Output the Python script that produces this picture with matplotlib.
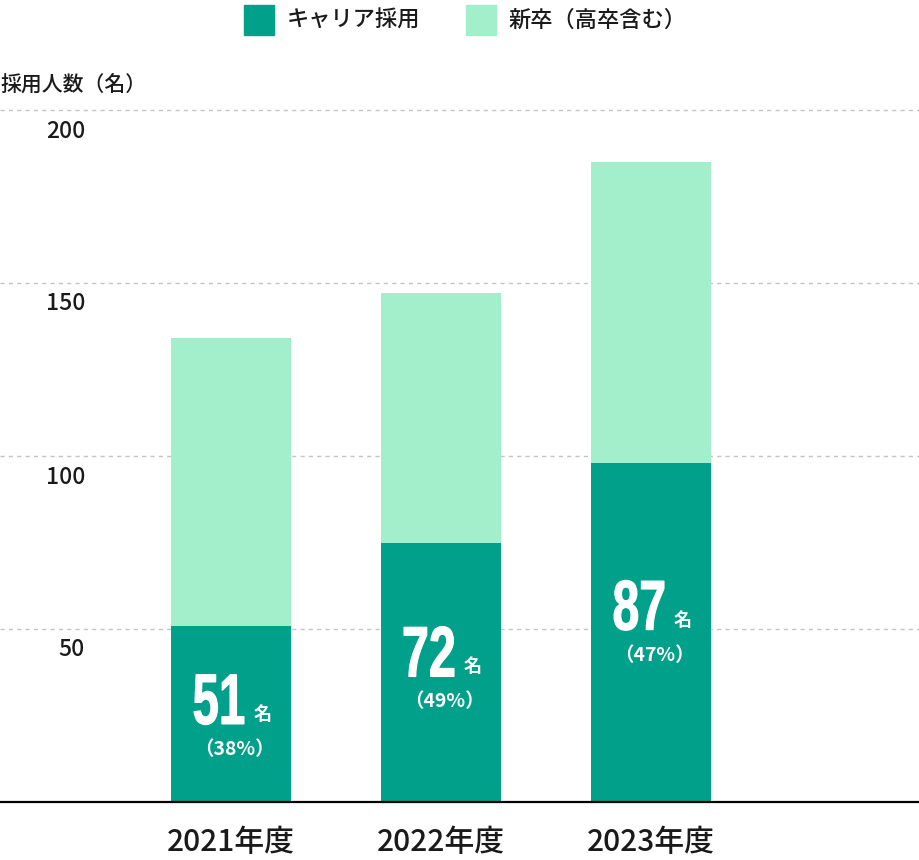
import matplotlib
matplotlib.use("Agg")
import matplotlib.pyplot as plt
from matplotlib.textpath import TextPath
from matplotlib.patches import PathPatch, Rectangle
from matplotlib.font_manager import FontProperties
from matplotlib.transforms import Affine2D, offset_copy
import numpy as np

plt.rcParams['font.family'] = ['Noto Sans CJK JP', 'DejaVu Sans']
plt.rcParams['font.weight'] = 'medium'

# data
years = ["2021年度", "2022年度", "2023年度"]
career_bar = [51, 75, 98]          # dark bar heights as drawn
total_bar = [134, 147, 185]        # top of the light bar
career_label = ["51", "72", "87"]  # numbers printed in the bars
share_label = ["（38%）", "（49%）", "（47%）"]
yticks = [50, 100, 150, 200]
series_names = ["キャリア採用", "新卒（高卒含む）"]

dark = "#00a08a"
light = "#a3eecb"
ink = "#1a1a1a"

W, H = 920, 860
fig = plt.figure(figsize=(W / 100, H / 100), dpi=100)

# axes: baseline at y=802px, top at y=100px (pixels from top)
ax = fig.add_axes([0, (H - 802) / H, 1, (802 - 100) / H])
px_per_unit = 173 / 50
ax.set_ylim(0, (802 - 100) / px_per_unit)
ax.set_xlim(-231 / 210, (W - 231) / 210)

x = np.arange(len(years))
newgrad = np.array(total_bar) - np.array(career_bar)
bw = 120 / 210
ax.bar(x, career_bar, width=bw, color=dark, zorder=3)
ax.bar(x, newgrad, bottom=career_bar, width=bw, color=light, zorder=3)

for s in ["left", "right", "top"]:
    ax.spines[s].set_visible(False)
ax.spines["bottom"].set_linewidth(1.6)
ax.spines["bottom"].set_color("black")
ax.spines["bottom"].set_zorder(4)
ax.set_yticks(yticks)
ax.set_yticklabels([])
ax.set_xticks([])
ax.tick_params(left=False, bottom=False)
ax.grid(axis="y", color="#c4c4c4", linestyle=(0, (3, 3)), linewidth=1, zorder=0)

# y tick labels sit a little below each grid line
for v in yticks:
    tr = offset_copy(ax.get_yaxis_transform(), fig=fig, x=0, y=-21, units="dots")
    ax.text(85 / W, v, str(v), transform=tr, ha="right", va="center",
            fontsize=16.5, color=ink)

fig.text(0, 1 - 86 / H, "採用人数（名）", ha="left", va="center", fontsize=15, color=ink)

# year labels under the bars
for i, yr in enumerate(years):
    tr = offset_copy(ax.get_xaxis_transform(), fig=fig, x=0, y=-41, units="dots")
    ax.text(i, 0, yr, transform=tr, ha="center", va="center", fontsize=21.5, color=ink)

# legend on top
fig.add_artist(Rectangle((244 / W, 1 - 35 / H), 30 / W, 30 / H, color=dark, transform=fig.transFigure))
fig.add_artist(Rectangle((466 / W, 1 - 35 / H), 30 / W, 30 / H, color=light, transform=fig.transFigure))
fig.text(287 / W, 1 - 20 / H, series_names[0], ha="left", va="center", fontsize=16, color=ink)
fig.text(508 / W, 1 - 20 / H, series_names[1], ha="left", va="center", fontsize=16, color=ink)

# big condensed numbers inside the dark bars
num_font = FontProperties(family=["Liberation Sans Narrow", "Liberation Sans", "DejaVu Sans"], weight="bold")


def squeezed_number(text, cx, cy, h_px, w_px):
    tp = TextPath((0, 0), text, size=1, prop=num_font)
    ext = tp.get_extents()
    tr = (Affine2D().translate(-(ext.x0 + ext.x1) / 2, -(ext.y0 + ext.y1) / 2)
          .scale(w_px / ext.width, h_px / ext.height).translate(cx, cy))
    fig.add_artist(PathPatch(tp, transform=tr, facecolor="white", edgecolor="white",
                             linewidth=0.8, zorder=5))


fig.canvas.draw()
for i in range(len(years)):
    cx, cy = ax.transData.transform((i, 0.58 * career_bar[i]))
    squeezed_number(career_label[i], cx - 12, cy, 50, 50)
    ax.annotate("名", (i, 0.58 * career_bar[i]), xytext=(32, -15), textcoords="offset pixels",
                ha="center", va="center", fontsize=13, fontweight="bold", color="white", zorder=5)
    ax.annotate(share_label[i], (i, 0.58 * career_bar[i]), xytext=(3, -50), textcoords="offset pixels",
                ha="center", va="center", fontsize=14, fontweight="bold", color="white", zorder=5)

fig.savefig("out.png", dpi=100)
